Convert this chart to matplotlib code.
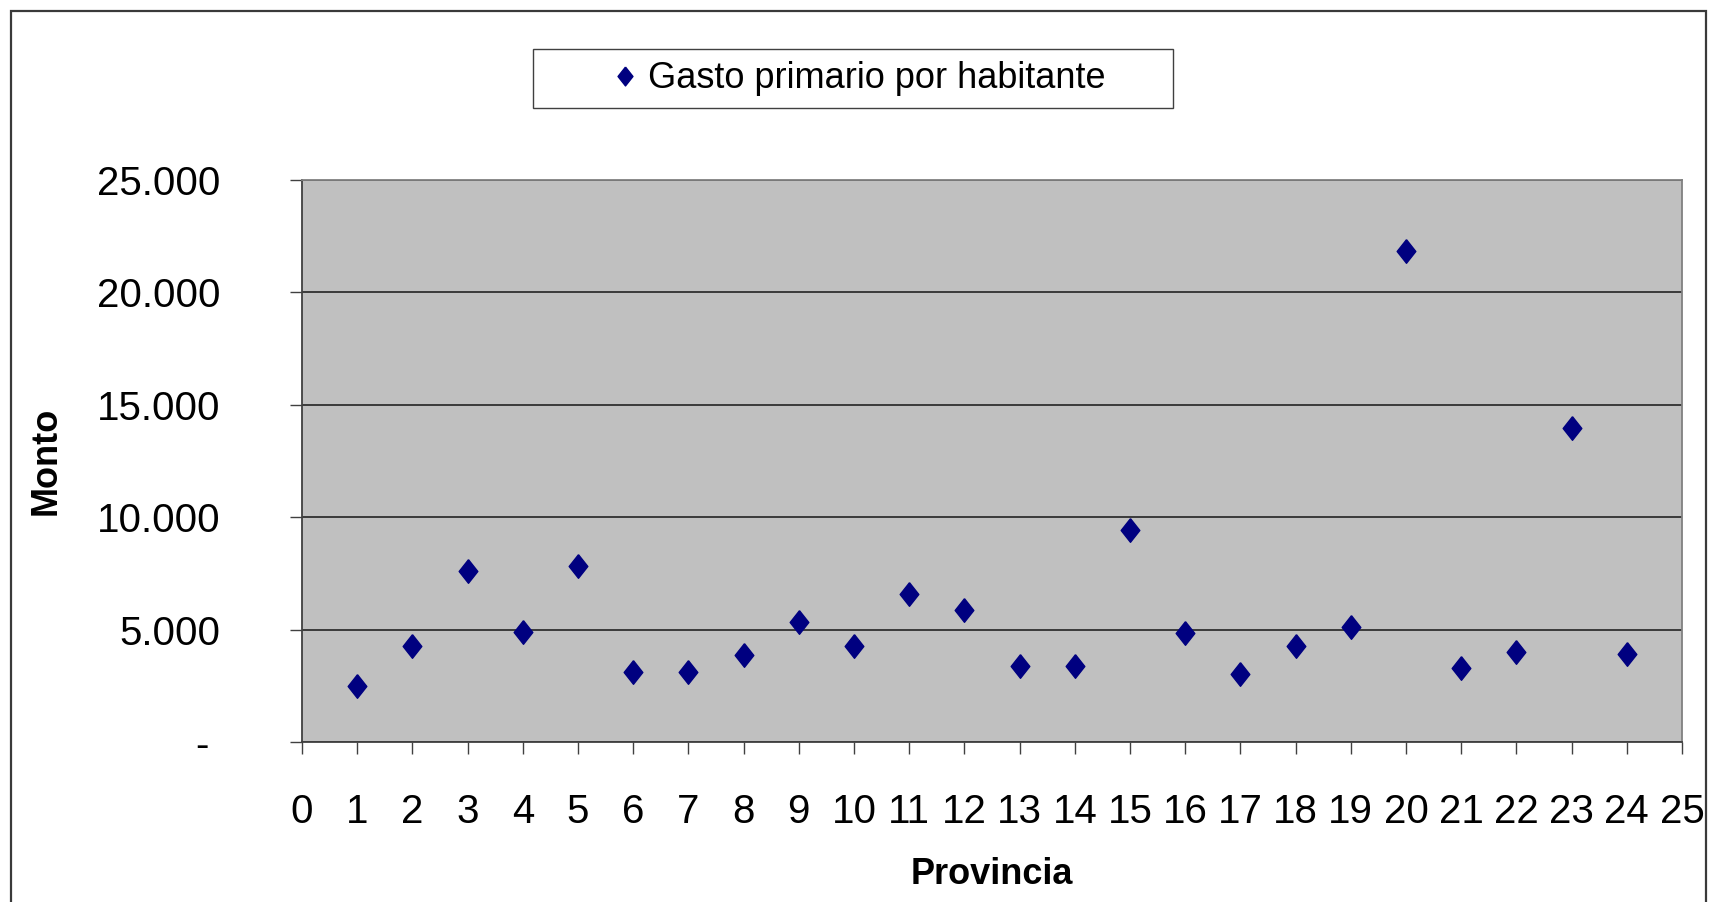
import matplotlib
matplotlib.use("Agg")
import matplotlib.pyplot as plt
from matplotlib.patches import Rectangle
from matplotlib.ticker import FuncFormatter

plt.rcParams["font.family"] = ["Liberation Sans", "DejaVu Sans"]

# Gasto primario por habitante, por provincia (1..24)
provincias = list(range(1, 25))
gasto = [2510, 4260, 7600, 4880, 7830, 3130, 3130, 3870, 5360, 4260, 6590, 5860,
         3390, 3390, 9420, 4870, 3030, 4250, 5120, 21850, 3270, 4020, 13960, 3900]

serie_label = "Gasto primario por habitante"
x_ticks = list(range(0, 26))
y_ticks = [0, 5000, 10000, 15000, 20000, 25000]

W, H = 1709, 902


def miles(v, _pos):
    # Excel accounting style: zero shown as a dash
    if v == 0:
        return "- "
    return f"{v:,.0f}".replace(",", ".")


fig = plt.figure(figsize=(W / 100, H / 100), dpi=100)

# outer chart frame (bottom edge falls outside the picture)
fig.add_artist(Rectangle((11 / W, -0.05), (1706 - 11) / W, 1 - 11 / H + 0.05,
                         transform=fig.transFigure, fill=False,
                         edgecolor="#3a3a3a", linewidth=1.6))

ax = fig.add_axes([302 / W, 1 - 742 / H, (1682 - 302) / W, (742 - 180) / H])
ax.set_facecolor("#c0c0c0")

diamond = [(0, 1), (0.79, 0), (0, -1), (-0.79, 0), (0, 1)]
ax.plot(provincias, gasto, linestyle="none", marker=diamond, markersize=17,
        color="#000080", markeredgecolor="#000080", label=serie_label, zorder=3)

ax.set_xlim(0, 25)
ax.set_ylim(0, 25000)
ax.set_xticks(x_ticks)
ax.set_yticks(y_ticks)
ax.yaxis.set_major_formatter(FuncFormatter(miles))
ax.grid(axis="y", color="#3a3a3a", linewidth=1.4)
ax.set_axisbelow(True)

for side in ["top", "right"]:
    ax.spines[side].set_color("#808080")
    ax.spines[side].set_linewidth(1.3)
for side in ["left", "bottom"]:
    ax.spines[side].set_color("#404040")
    ax.spines[side].set_linewidth(1.3)

ax.tick_params(axis="y", direction="out", length=8.6, width=1, color="#404040",
               labelsize=29, pad=50)
ax.tick_params(axis="x", direction="out", length=8.6, width=1, color="#404040",
               labelsize=29, pad=28)

ax.set_xlabel("Provincia", fontsize=26, fontweight="bold", va="center")
ax.xaxis.set_label_coords(0.5, (742 - 875) / (742 - 180))
ax.set_ylabel("Monto", fontsize=26, fontweight="bold", va="center")
ax.yaxis.set_label_coords((46 - 302) / (1682 - 302), 0.5)

# legend box
fig.add_artist(Rectangle((533 / W, 1 - 108 / H), 640 / W, 59 / H,
                         transform=fig.transFigure, facecolor="white",
                         edgecolor="#404040", linewidth=1.0, zorder=1))
fig.legend(loc="center left", bbox_to_anchor=(589 / W, 1 - 79 / H),
           frameon=False, fontsize=26, borderpad=0, handlelength=1.0,
           handletextpad=0.12, markerscale=0.8)

fig.savefig("out.png", dpi=100)
